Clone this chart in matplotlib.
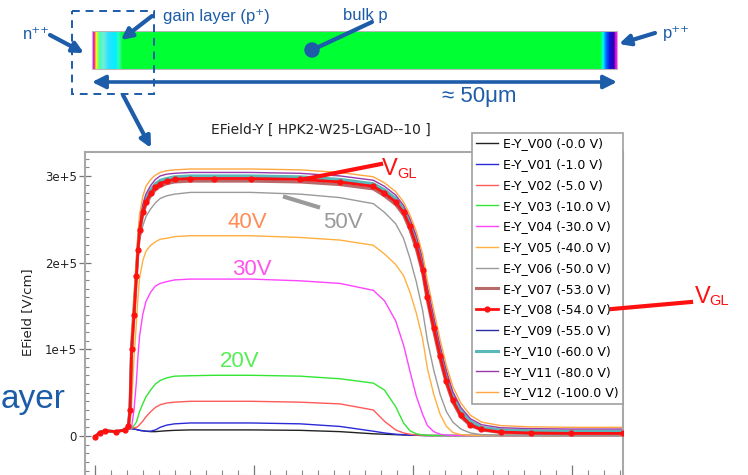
import numpy as np
import matplotlib
matplotlib.use("Agg")
import matplotlib.pyplot as plt
from matplotlib.colors import LinearSegmentedColormap
from matplotlib.patches import Rectangle, Circle
from matplotlib.ticker import FixedLocator, MultipleLocator

# ---------------- data (E field in units of 1e5 V/cm) ----------------
x_pos = [0.0, 0.3, 0.6, 1.3, 1.9, 2.1, 2.2, 2.3, 2.45, 2.6, 2.7, 2.8, 3.0, 3.2,
         3.5, 3.8, 4.1, 4.5, 5.0, 6.0, 7.5, 9.8, 12.9, 15.4, 17.5, 18.2, 18.9,
         19.4, 19.8, 20.2, 20.6, 20.9, 21.3, 21.7, 22.1, 22.5, 23.0, 23.6, 24.3,
         25.5, 27.4, 29.9, 33.2]

E_V00 = [-0.01, 0.04, 0.06, 0.05, 0.07, 0.08, 0.085, 0.085, 0.08, 0.075, 0.07, 0.065,
         0.06, 0.055, 0.05, 0.05, 0.055, 0.06, 0.065, 0.07, 0.07, 0.07, 0.065, 0.05,
         0.025, 0.02, 0.015, 0.012, 0.01, 0.008, 0.006, 0.005, 0.005, 0.005, 0.005,
         0.005, 0.005, 0.005, 0.005, 0.005, 0.005, 0.005, 0.005]
E_V01 = [-0.01, 0.04, 0.06, 0.05, 0.07, 0.08, 0.085, 0.085, 0.08, 0.075, 0.07, 0.065,
         0.06, 0.055, 0.055, 0.07, 0.10, 0.125, 0.14, 0.15, 0.15, 0.15, 0.14, 0.11,
         0.055, 0.035, 0.02, 0.015, 0.01, 0.008, 0.006, 0.005, 0.005, 0.005, 0.005,
         0.005, 0.005, 0.005, 0.005, 0.005, 0.005, 0.005, 0.005]
E_V02 = [-0.01, 0.04, 0.06, 0.05, 0.07, 0.08, 0.085, 0.09, 0.095, 0.10, 0.11, 0.13,
         0.17, 0.22, 0.28, 0.33, 0.36, 0.38, 0.39, 0.40, 0.40, 0.40, 0.39, 0.37,
         0.30, 0.17, 0.07, 0.035, 0.02, 0.012, 0.008, 0.005, 0.005, 0.005, 0.005,
         0.005, 0.005, 0.005, 0.005, 0.005, 0.005, 0.005, 0.005]
E_V03 = [-0.01, 0.04, 0.06, 0.05, 0.07, 0.08, 0.085, 0.09, 0.12, 0.16, 0.22, 0.28,
         0.37, 0.45, 0.53, 0.60, 0.64, 0.67, 0.69, 0.695, 0.70, 0.70, 0.69, 0.66,
         0.61, 0.53, 0.34, 0.15, 0.06, 0.025, 0.012, 0.008, 0.005, 0.005, 0.005,
         0.005, 0.005, 0.005, 0.005, 0.005, 0.005, 0.005, 0.005]
E_V04 = [-0.01, 0.04, 0.06, 0.05, 0.07, 0.08, 0.085, 0.10, 0.30, 0.62, 0.92, 1.15,
         1.40, 1.55, 1.66, 1.73, 1.76, 1.78, 1.80, 1.81, 1.81, 1.81, 1.79, 1.76,
         1.68, 1.56, 1.33, 1.05, 0.75, 0.46, 0.25, 0.12, 0.05, 0.02, 0.01,
         0.005, 0.005, 0.005, 0.005, 0.005, 0.005, 0.005, 0.005]
E_V05 = [-0.01, 0.04, 0.06, 0.05, 0.07, 0.09, 0.12, 0.35, 0.90, 1.30, 1.60, 1.82,
         2.02, 2.13, 2.20, 2.24, 2.27, 2.28, 2.30, 2.31, 2.31, 2.31, 2.29, 2.26,
         2.20, 2.10, 1.98, 1.85, 1.66, 1.42, 1.12, 0.78, 0.48, 0.25, 0.11,
         0.04, 0.015, 0.008, 0.005, 0.005, 0.005, 0.005, 0.005]
E_V06 = [-0.01, 0.04, 0.06, 0.05, 0.07, 0.09, 0.30, 0.85, 1.35, 1.78, 2.05, 2.25,
         2.42, 2.53, 2.62, 2.69, 2.74, 2.77, 2.79, 2.81, 2.81, 2.81, 2.79, 2.75,
         2.68, 2.58, 2.45, 2.28, 2.05, 1.78, 1.45, 1.10, 0.76, 0.48, 0.28,
         0.16, 0.08, 0.035, 0.015, 0.008, 0.005, 0.005, 0.005]
E_V07 = [-0.01, 0.04, 0.06, 0.05, 0.07, 0.11, 0.28, 0.95, 1.38, 1.82, 2.12, 2.35,
         2.55, 2.67, 2.77, 2.84, 2.88, 2.91, 2.93, 2.94, 2.94, 2.94, 2.93, 2.90,
         2.85, 2.77, 2.67, 2.55, 2.38, 2.16, 1.88, 1.56, 1.21, 0.88, 0.60,
         0.39, 0.22, 0.12, 0.07, 0.04, 0.03, 0.025, 0.025]
E_V08 = [-0.01, 0.04, 0.06, 0.05, 0.07, 0.12, 0.30, 1.00, 1.40, 1.85, 2.15, 2.38,
         2.58, 2.70, 2.80, 2.87, 2.91, 2.94, 2.96, 2.97, 2.97, 2.97, 2.96, 2.93,
         2.88, 2.80, 2.70, 2.58, 2.42, 2.20, 1.92, 1.60, 1.25, 0.92, 0.63,
         0.41, 0.24, 0.13, 0.075, 0.045, 0.035, 0.03, 0.03]
E_V09 = [-0.01, 0.04, 0.06, 0.05, 0.07, 0.12, 0.32, 1.02, 1.45, 1.88, 2.18, 2.40,
         2.60, 2.72, 2.82, 2.89, 2.93, 2.96, 2.98, 2.99, 2.99, 2.99, 2.98, 2.95,
         2.90, 2.82, 2.72, 2.60, 2.44, 2.23, 1.95, 1.63, 1.28, 0.95, 0.66,
         0.43, 0.26, 0.15, 0.085, 0.055, 0.045, 0.04, 0.04]
E_V10 = [-0.01, 0.04, 0.06, 0.05, 0.07, 0.12, 0.33, 1.05, 1.48, 1.90, 2.20, 2.42,
         2.62, 2.74, 2.84, 2.91, 2.95, 2.97, 2.99, 3.00, 3.00, 3.00, 2.99, 2.96,
         2.91, 2.84, 2.74, 2.62, 2.46, 2.26, 1.98, 1.66, 1.31, 0.98, 0.69,
         0.46, 0.29, 0.17, 0.10, 0.07, 0.06, 0.055, 0.055]
E_V11 = [-0.01, 0.04, 0.06, 0.05, 0.07, 0.13, 0.35, 1.08, 1.52, 1.94, 2.24, 2.47,
         2.67, 2.79, 2.89, 2.96, 3.00, 3.02, 3.03, 3.04, 3.04, 3.04, 3.03, 3.00,
         2.95, 2.88, 2.78, 2.66, 2.51, 2.31, 2.04, 1.72, 1.38, 1.04, 0.75,
         0.51, 0.33, 0.20, 0.13, 0.095, 0.085, 0.08, 0.08]
E_V12 = [-0.01, 0.04, 0.06, 0.05, 0.07, 0.14, 0.40, 1.15, 1.60, 2.02, 2.32, 2.55,
         2.76, 2.88, 2.96, 3.01, 3.04, 3.06, 3.07, 3.08, 3.08, 3.08, 3.07, 3.04,
         2.99, 2.92, 2.82, 2.70, 2.55, 2.36, 2.10, 1.79, 1.45, 1.11, 0.81,
         0.57, 0.38, 0.24, 0.16, 0.12, 0.105, 0.10, 0.10]

series_labels = ["E-Y_V00 (-0.0 V)", "E-Y_V01 (-1.0 V)", "E-Y_V02 (-5.0 V)",
                 "E-Y_V03 (-10.0 V)", "E-Y_V04 (-30.0 V)", "E-Y_V05 (-40.0 V)",
                 "E-Y_V06 (-50.0 V)", "E-Y_V07 (-53.0 V)", "E-Y_V08 (-54.0 V)",
                 "E-Y_V09 (-55.0 V)", "E-Y_V10 (-60.0 V)", "E-Y_V11 (-80.0 V)",
                 "E-Y_V12 (-100.0 V)"]
series_values = [E_V00, E_V01, E_V02, E_V03, E_V04, E_V05, E_V06, E_V07, E_V08,
                 E_V09, E_V10, E_V11, E_V12]
series_colors = ["#222222", "#2a2ad8", "#ff5a5a", "#33e633", "#ff44ff", "#ffb040",
                 "#9a9a9a", "#b86a6a", "#ff1010", "#2a2aa8", "#5ab8b8", "#9a3aaa",
                 "#ffa640"]
series_widths = [1.0, 1.0, 1.0, 1.0, 1.0, 1.0, 1.0, 2.2, 2.0, 1.0, 2.2, 1.0, 1.0]

y_tick_values = [0, 1e5, 2e5, 3e5]
y_tick_labels = ["0", "1e+5", "2e+5", "3e+5"]
x_major_ticks = [0, 10, 20, 30]

# ---------------- figure ----------------
W, H = 748, 475
fig = plt.figure(figsize=(W / 100, H / 100), dpi=100)
fig.patch.set_facecolor("white")

def fy(py):
    return 1 - py / H

ax = fig.add_axes([85 / W, fy(475.5), (623 - 85) / W, (475.5 - 152) / H], zorder=2)
ax.set_facecolor("white")

order = [0, 1, 2, 3, 4, 5, 6, 7, 9, 10, 11, 12, 8]
lines = {}
for i in order:
    yv = np.array(series_values[i]) * 1e5
    if i == 8:
        ln, = ax.plot(x_pos, yv, color=series_colors[i], lw=series_widths[i],
                      marker="o", ms=3.5, mec=series_colors[i], zorder=3)
    else:
        ln, = ax.plot(x_pos, yv, color=series_colors[i], lw=series_widths[i], zorder=2)
    lines[i] = ln
handles = [lines[i] for i in range(13)]

ax.set_xlim(-0.63, 33.2)
ax.set_ylim(-0.456e5, 3.276e5)

ax.yaxis.set_major_locator(FixedLocator(y_tick_values))
ax.set_yticklabels(y_tick_labels)
ax.yaxis.set_minor_locator(MultipleLocator(1e4))
ax.xaxis.set_major_locator(FixedLocator(x_major_ticks))
ax.xaxis.set_minor_locator(MultipleLocator(1))
ax.tick_params(axis="y", which="major", direction="inout", length=8, width=0.9,
               color="#777777", labelsize=8.5, pad=2, labelcolor="#222222")
ax.tick_params(axis="y", which="minor", direction="in", length=3, width=0.8, color="#888888")
ax.tick_params(axis="x", which="major", direction="in", length=8, width=0.9,
               color="#777777", labelbottom=False)
ax.tick_params(axis="x", which="minor", direction="in", length=4, width=0.8, color="#888888")
for s in ax.spines.values():
    s.set_color("#a8a8a8")
    s.set_linewidth(1.5)

leg = ax.legend(handles, series_labels, loc="upper left",
                bbox_to_anchor=(472 / W, fy(133)), bbox_transform=fig.transFigure,
                fontsize=9, frameon=True, fancybox=False, edgecolor="#a0a0a0",
                framealpha=1, borderaxespad=0, borderpad=0.35, handlelength=1.75,
                handletextpad=0.35, labelspacing=0.62, numpoints=1)
leg.get_frame().set_linewidth(1.2)
leg.set_zorder(10)

fig.text(321 / W, fy(130), "EField-Y [ HPK2-W25-LGAD--10 ]", ha="center", va="center",
         fontsize=10, color="#222222")
fig.text(28 / W, fy(312), "EField [V/cm]", rotation=90, ha="center", va="center",
         fontsize=9.5, color="#222222")

# ---------------- overlay (slide graphics) ----------------
blue = "#1c5ca8"
red = "#ff1010"
slide_font = ["Liberation Sans", "DejaVu Sans"]

fig.text(0.5 / W, fy(408), "ayer", ha="left", va="baseline", fontsize=24,
         color=blue, family=slide_font, zorder=0)

ov = fig.add_axes([0, 0, 1, 1], zorder=5)
ov.patch.set_alpha(0)
ov.axis("off")

stops = [(92, "#ff00ff"), (93.6, "#ff00ff"), (94.3, "#ff6000"), (95.2, "#ffff00"),
         (97, "#b0ff40"), (99, "#40ffb0"), (103, "#70f0d8"), (108, "#30e0ff"),
         (115, "#00f0ff"), (118.5, "#30ffb0"), (122, "#00ff33"), (601, "#00ff33"),
         (603.5, "#00ffff"), (606.5, "#0070ff"), (610.5, "#1010e0"), (615, "#3000a0"),
         (616.2, "#ff00ff"), (617, "#ff00ff")]
cmap = LinearSegmentedColormap.from_list(
    "bar", [((p - 92) / (617 - 92), c) for p, c in stops], N=1024)
grad = np.linspace(0, 1, 1050).reshape(1, -1)
ov.imshow(grad, extent=[92, 617, 69, 31], aspect="auto", cmap=cmap,
          interpolation="bilinear", zorder=1)
ov.add_patch(Rectangle((92, 31), 525, 38, fill=False, ec="#b8b8b8", lw=0.8, zorder=2))

ov.add_patch(Rectangle((72, 11), 82, 83, fill=False, ec=blue, lw=1.4,
                       ls=(0, (4, 3)), zorder=3))

def arrow(tail, tip, lw=3, ms=16, style="-|>"):
    ov.annotate("", xy=tip, xytext=tail,
                arrowprops=dict(arrowstyle=style, color=blue, lw=lw,
                                mutation_scale=ms, shrinkA=0, shrinkB=0), zorder=4)

arrow((92, 82), (617, 82), lw=2.6, ms=20, style="<|-|>")
arrow((50, 35), (84, 53))
arrow((152, 16), (121, 40))
arrow((655, 33), (619, 44))
arrow((123, 95), (151, 148))
ov.plot([372, 312], [22, 50], color=blue, lw=3, solid_capstyle="round", zorder=4)
ov.add_patch(Circle((312, 50), 7, color=blue, zorder=5))

ov.text(23, 39, "n\u207a\u207a", fontsize=12, color=blue, family=slide_font, va="baseline")
ov.text(163, 21, "gain layer (p\u207a)", fontsize=12, color=blue, family=slide_font,
        va="baseline")
ov.text(343, 20, "bulk p", fontsize=12, color=blue, family=slide_font, va="baseline")
ov.text(663, 38, "p\u207a\u207a", fontsize=12, color=blue, family=slide_font, va="baseline")
ov.text(442, 102, "\u2248 50\u03bcm", fontsize=16, color=blue, family=slide_font,
        va="baseline")

# red V_GL annotations
ov.plot([300, 381], [180, 164], color=red, lw=3, zorder=6)
ov.text(382, 175, "V", fontsize=17, color=red, family=slide_font, va="baseline")
ov.text(397, 178, "GL", fontsize=10.5, color=red, family=slide_font, va="baseline")
ov.plot([612, 691], [309, 302], color=red, lw=3, zorder=6)
ov.text(695, 303, "V", fontsize=17, color=red, family=slide_font, va="baseline")
ov.text(709, 305, "GL", fontsize=10.5, color=red, family=slide_font, va="baseline")

# voltage labels
ov.text(228, 228, "40V", fontsize=16, color="#ff8c55", family=slide_font, va="baseline")
ov.text(323, 228, "50V", fontsize=16, color="#9a9a9a", family=slide_font, va="baseline")
ov.plot([285, 318], [197, 207], color="#9a9a9a", lw=3, zorder=6)
ov.text(232, 275, "30V", fontsize=16, color="#ff55ee", family=slide_font, va="baseline")
ov.text(220, 367, "20V", fontsize=16, color="#55ee55", family=slide_font, va="baseline")

ov.set_xlim(0, W)
ov.set_ylim(H, 0)

fig.savefig("out.png", dpi=100)
